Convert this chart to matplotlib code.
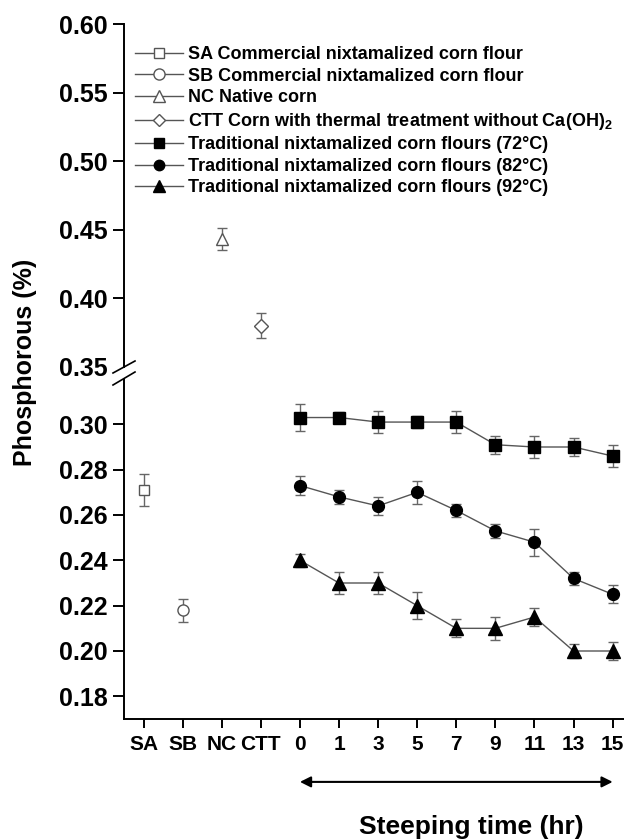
import matplotlib
matplotlib.use("Agg")
import matplotlib.pyplot as plt
from matplotlib.lines import Line2D

plt.rcParams["font.family"] = ["Liberation Sans", "DejaVu Sans"]
plt.rcParams["font.weight"] = "bold"
plt.rcParams["mathtext.default"] = "regular"

categories = ["SA", "SB", "NC", "CTT", "0", "1", "3", "5", "7", "9", "11", "13", "15"]

# reference samples (mean, sd)
sa_val, sa_err = 0.271, 0.007
sb_val, sb_err = 0.218, 0.005
nc_val, nc_err = 0.443, 0.008
ctt_val, ctt_err = 0.380, 0.009

# steeping series, one value per hour 0..15
p72 = [0.303, 0.303, 0.301, 0.301, 0.301, 0.291, 0.290, 0.290, 0.286]
p72_err = [0.006, 0.0025, 0.005, 0.0027, 0.005, 0.004, 0.005, 0.004, 0.005]
p82 = [0.273, 0.268, 0.264, 0.270, 0.262, 0.253, 0.248, 0.232, 0.225]
p82_err = [0.004, 0.003, 0.004, 0.005, 0.003, 0.003, 0.006, 0.003, 0.004]
p92 = [0.240, 0.230, 0.230, 0.220, 0.210, 0.210, 0.215, 0.200, 0.200]
p92_err = [0.003, 0.005, 0.005, 0.006, 0.004, 0.005, 0.004, 0.003, 0.004]

labels = [
    "SA Commercial nixtamalized corn flour",
    "SB Commercial nixtamalized corn flour",
    "NC Native corn",
    "CTT Corn with thermal treatment without Ca(OH)$_2$",
    "Traditional nixtamalized corn flours (72\u00b0C)",
    "Traditional nixtamalized corn flours (82\u00b0C)",
    "Traditional nixtamalized corn flours (92\u00b0C)",
]

W, H = 624, 839
fig = plt.figure(figsize=(W / 100, H / 100), dpi=100)
left = 124 / W
ax_top = fig.add_axes([left, (H - 367) / H, 1 - left, (367 - 24) / H])
ax_bot = fig.add_axes([left, (H - 719) / H, 1 - left, (719 - 379) / H])

line_c = "#555555"
err_kw = dict(ecolor="#666666", elinewidth=1, capsize=3.6, capthick=1, zorder=3)

x_steep = list(range(4, 13))

# open symbols for the reference samples
ax_bot.errorbar([0], [sa_val], yerr=[sa_err], fmt="s", ms=7, mfc="white", mec=line_c, mew=1, **err_kw)
ax_bot.errorbar([1], [sb_val], yerr=[sb_err], fmt="o", ms=8, mfc="white", mec=line_c, mew=1, **err_kw)
ax_top.errorbar([2], [nc_val], yerr=[nc_err], fmt="^", ms=9, mfc="white", mec=line_c, mew=1, **err_kw)
ax_top.errorbar([3], [ctt_val], yerr=[ctt_err], fmt="D", ms=7.5, mfc="white", mec=line_c, mew=1, **err_kw)

for vals, errs, mk, ms in [(p72, p72_err, "s", 8), (p82, p82_err, "o", 8.5), (p92, p92_err, "^", 10)]:
    ax_bot.errorbar(x_steep, vals, yerr=errs, fmt="-", color=line_c, lw=1, zorder=2,
                    ecolor="#666666", elinewidth=1, capsize=3.6, capthick=1)
    ax_bot.plot(x_steep, vals, mk, ms=ms, color="black", zorder=4)

for ax in (ax_top, ax_bot):
    ax.set_xlim(-0.5, 12.29)
    ax.spines["top"].set_visible(False)
    ax.spines["right"].set_visible(False)
    ax.spines["left"].set_linewidth(1.4)
    ax.tick_params(axis="y", direction="out", length=8, width=1.4, pad=4, labelsize=18)

ax_top.set_ylim(0.35, 0.60)
ax_top.set_yticks([0.35, 0.40, 0.45, 0.50, 0.55, 0.60])
ax_top.set_yticklabels(["%.2f" % v for v in ax_top.get_yticks()])
ax_top.spines["bottom"].set_visible(False)
ax_top.tick_params(axis="x", bottom=False, labelbottom=False)
ax_top.yaxis.get_major_ticks()[0].tick1line.set_visible(False)

ax_bot.set_ylim(0.17, 0.32)
ax_bot.set_yticks([0.18, 0.20, 0.22, 0.24, 0.26, 0.28, 0.30])
ax_bot.set_yticklabels(["%.2f" % v for v in ax_bot.get_yticks()])
ax_bot.spines["bottom"].set_linewidth(1.4)
ax_bot.set_xticks(range(len(categories)))
ax_bot.set_xticklabels(categories)
ax_bot.tick_params(axis="x", direction="out", length=6.5, width=1.4, pad=5, labelsize=15)

# axis break marks on the y spine
for y0, y1 in [(373, 361), (385, 372)]:
    fig.add_artist(Line2D([113 / W, 135 / W], [(H - y0) / H, (H - y1) / H],
                          transform=fig.transFigure, color="black", lw=1.2))

# steeping time arrow under the hour ticks
ax_bot.annotate("", xy=(12, -0.185), xytext=(4, -0.185),
                xycoords=("data", "axes fraction"), textcoords=("data", "axes fraction"),
                arrowprops=dict(arrowstyle="<|-|>", color="black", lw=1.5,
                                shrinkA=0, shrinkB=0, mutation_scale=16),
                annotation_clip=False)

fig.text(471 / W, (H - 827) / H, "Steeping time (hr)", ha="center", va="center", fontsize=19)
fig.text(25 / W, (H - 362) / H, "Phosphorous (%)", ha="center", va="center",
         rotation=90, fontsize=18)

handles = [
    Line2D([], [], color=line_c, lw=1, marker="s", ms=7, mfc="white", mec=line_c),
    Line2D([], [], color=line_c, lw=1, marker="o", ms=8, mfc="white", mec=line_c),
    Line2D([], [], color=line_c, lw=1, marker="^", ms=8, mfc="white", mec=line_c),
    Line2D([], [], color=line_c, lw=1, marker="D", ms=6.5, mfc="white", mec=line_c),
    Line2D([], [], color=line_c, lw=1, marker="s", ms=7, mfc="black", mec="black"),
    Line2D([], [], color=line_c, lw=1, marker="o", ms=7.5, mfc="black", mec="black"),
    Line2D([], [], color=line_c, lw=1, marker="^", ms=8, mfc="black", mec="black"),
]
ax_top.legend(handles, labels, loc="upper left", bbox_to_anchor=(0.022, 0.935),
              frameon=False, fontsize=13, handlelength=2.65, handletextpad=0.3,
              labelspacing=0.25, borderpad=0, borderaxespad=0)

fig.savefig("out.png", dpi=100)
